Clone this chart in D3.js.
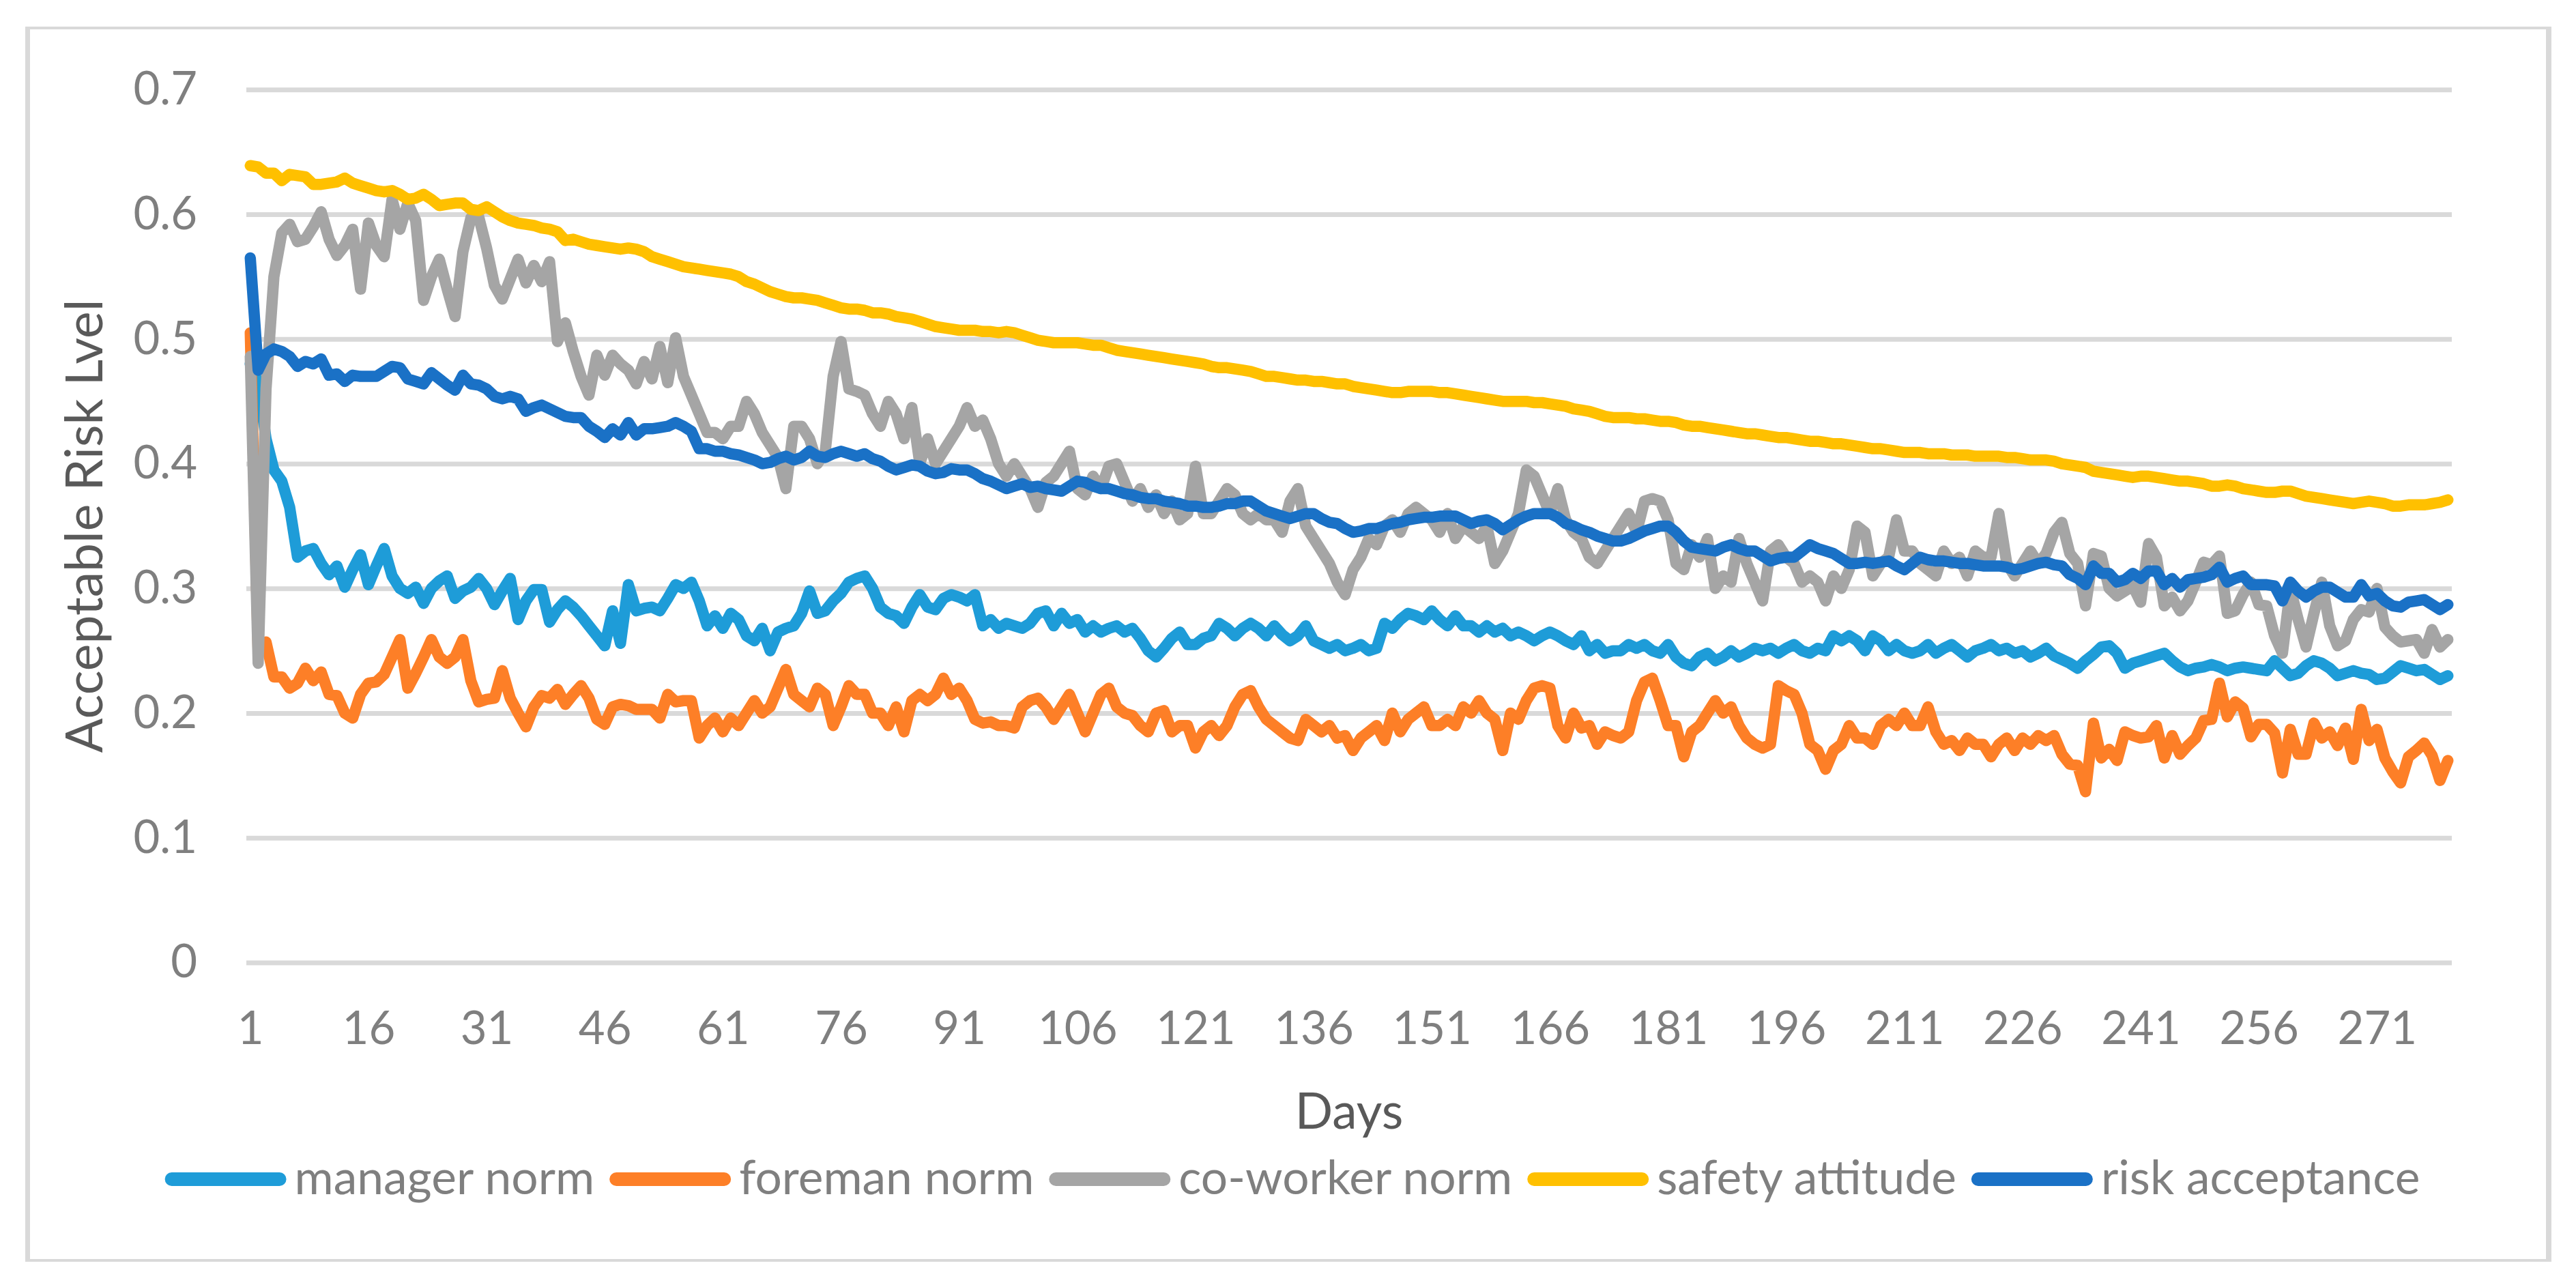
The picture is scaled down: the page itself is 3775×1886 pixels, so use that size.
<!DOCTYPE html>
<html><head><meta charset="utf-8">
<script src="https://cdn.jsdelivr.net/npm/d3@7"></script>
<style>html,body{margin:0;padding:0;background:#fff;} svg{display:block;}</style>
</head><body>
<svg id="chart" width="3775" height="1886"></svg>
<script>
// ---------- data ----------
const days = d3.range(1, 281);
const xTickDays = [1,16,31,46,61,76,91,106,121,136,151,166,181,196,211,226,241,256,271];
const yTicks = [0,0.1,0.2,0.3,0.4,0.5,0.6,0.7];
const seriesNames = ["manager norm","foreman norm","co-worker norm","safety attitude","risk acceptance"];
const seriesColors = ["#1E9CD8","#FD7F27","#A5A5A5","#FFC000","#1A71C6"];

const managerNorm = [
0.480,0.465,0.420,0.395,0.386,0.365,0.325,0.330,0.332,0.320,
0.311,0.318,0.301,0.315,0.327,0.303,0.318,0.332,0.310,0.300,
0.296,0.301,0.288,0.300,0.306,0.310,0.292,0.298,0.301,0.308,
0.300,0.287,0.298,0.308,0.275,0.290,0.299,0.299,0.273,0.283,
0.290,0.285,0.278,0.270,0.262,0.254,0.282,0.256,0.303,0.282,
0.284,0.285,0.282,0.292,0.303,0.300,0.305,0.290,0.270,0.278,
0.268,0.280,0.275,0.262,0.258,0.268,0.250,0.265,0.268,0.270,
0.280,0.298,0.280,0.282,0.290,0.296,0.305,0.308,0.310,0.300,
0.285,0.280,0.278,0.272,0.285,0.295,0.285,0.283,0.292,0.295,
0.293,0.290,0.295,0.270,0.275,0.268,0.272,0.270,0.268,0.272,
0.280,0.282,0.270,0.280,0.272,0.275,0.265,0.270,0.265,0.268,
0.270,0.265,0.268,0.260,0.250,0.245,0.252,0.260,0.265,0.255,
0.255,0.260,0.262,0.272,0.268,0.262,0.268,0.272,0.268,0.262,
0.270,0.263,0.258,0.262,0.270,0.258,0.255,0.252,0.255,0.250,
0.252,0.255,0.250,0.252,0.272,0.268,0.275,0.280,0.278,0.275,
0.282,0.275,0.270,0.278,0.270,0.270,0.265,0.270,0.265,0.268,
0.262,0.265,0.262,0.258,0.262,0.265,0.262,0.258,0.255,0.262,
0.250,0.255,0.248,0.250,0.250,0.255,0.252,0.255,0.250,0.248,
0.255,0.245,0.240,0.238,0.245,0.248,0.242,0.245,0.250,0.245,
0.248,0.252,0.250,0.252,0.248,0.252,0.255,0.250,0.248,0.252,
0.250,0.262,0.258,0.262,0.258,0.250,0.262,0.258,0.250,0.255,
0.250,0.248,0.250,0.255,0.248,0.252,0.255,0.250,0.245,0.250,
0.252,0.255,0.250,0.252,0.248,0.250,0.245,0.248,0.252,0.246,
0.243,0.240,0.236,0.242,0.247,0.253,0.254,0.248,0.236,0.240,
0.242,0.244,0.246,0.248,0.242,0.237,0.234,0.236,0.237,0.239,
0.237,0.234,0.236,0.237,0.236,0.235,0.234,0.242,0.236,0.230,
0.232,0.238,0.242,0.240,0.236,0.230,0.232,0.234,0.232,0.231,
0.227,0.228,0.233,0.238,0.236,0.234,0.235,0.231,0.227,0.230];

const foremanNorm = [
0.505,0.250,0.257,0.229,0.229,0.220,0.224,0.236,0.226,0.233,
0.215,0.214,0.200,0.196,0.215,0.224,0.225,0.231,0.245,0.259,
0.220,0.232,0.245,0.259,0.245,0.240,0.245,0.259,0.226,0.209,
0.211,0.212,0.234,0.212,0.200,0.189,0.205,0.214,0.212,0.219,
0.207,0.215,0.222,0.212,0.195,0.191,0.205,0.207,0.206,0.203,
0.203,0.203,0.196,0.215,0.209,0.210,0.210,0.180,0.190,0.196,
0.185,0.196,0.190,0.200,0.210,0.200,0.205,0.220,0.235,0.215,
0.210,0.205,0.220,0.215,0.190,0.205,0.222,0.215,0.215,0.200,
0.200,0.190,0.205,0.185,0.210,0.215,0.210,0.215,0.228,0.215,
0.220,0.210,0.195,0.192,0.193,0.190,0.190,0.188,0.205,0.210,
0.212,0.205,0.195,0.205,0.215,0.200,0.185,0.200,0.215,0.220,
0.205,0.200,0.198,0.190,0.185,0.200,0.202,0.185,0.190,0.190,
0.172,0.185,0.190,0.182,0.190,0.205,0.215,0.218,0.205,0.195,
0.190,0.185,0.180,0.178,0.195,0.190,0.185,0.190,0.180,0.182,
0.170,0.180,0.185,0.190,0.178,0.200,0.185,0.195,0.200,0.205,
0.190,0.190,0.195,0.190,0.205,0.200,0.210,0.200,0.195,0.170,
0.200,0.195,0.210,0.220,0.222,0.220,0.190,0.180,0.200,0.188,
0.190,0.175,0.185,0.182,0.180,0.185,0.210,0.225,0.228,0.210,
0.190,0.190,0.165,0.185,0.190,0.200,0.210,0.200,0.205,0.190,
0.180,0.175,0.172,0.175,0.222,0.218,0.215,0.200,0.175,0.170,
0.155,0.170,0.175,0.190,0.180,0.180,0.175,0.190,0.195,0.190,
0.200,0.190,0.190,0.205,0.185,0.175,0.178,0.170,0.180,0.175,
0.175,0.165,0.175,0.180,0.170,0.180,0.175,0.182,0.178,0.182,
0.167,0.159,0.158,0.137,0.192,0.164,0.171,0.162,0.185,0.182,
0.180,0.181,0.190,0.164,0.182,0.167,0.174,0.180,0.194,0.195,
0.224,0.197,0.209,0.204,0.181,0.191,0.191,0.184,0.152,0.187,
0.167,0.167,0.192,0.180,0.185,0.174,0.188,0.163,0.203,0.178,
0.187,0.164,0.153,0.144,0.165,0.170,0.176,0.166,0.146,0.162];

const coWorkerNorm = [
0.486,0.240,0.460,0.550,0.585,0.592,0.578,0.580,0.590,0.602,
0.580,0.567,0.575,0.588,0.540,0.593,0.575,0.566,0.612,0.588,
0.609,0.595,0.531,0.550,0.564,0.540,0.518,0.570,0.597,0.598,
0.573,0.543,0.532,0.548,0.564,0.545,0.559,0.546,0.562,0.498,
0.513,0.490,0.470,0.455,0.487,0.471,0.487,0.480,0.475,0.464,
0.482,0.468,0.494,0.465,0.501,0.470,0.455,0.440,0.425,0.425,
0.420,0.430,0.430,0.450,0.440,0.425,0.415,0.405,0.380,0.430,
0.430,0.420,0.400,0.410,0.470,0.498,0.460,0.458,0.455,0.440,
0.430,0.450,0.440,0.420,0.445,0.400,0.420,0.400,0.410,0.420,
0.430,0.445,0.430,0.435,0.420,0.400,0.390,0.400,0.390,0.380,
0.365,0.385,0.390,0.400,0.410,0.380,0.375,0.390,0.380,0.398,
0.400,0.385,0.370,0.380,0.365,0.375,0.360,0.370,0.355,0.360,
0.398,0.360,0.360,0.370,0.380,0.375,0.360,0.355,0.360,0.355,
0.355,0.345,0.370,0.380,0.350,0.340,0.330,0.320,0.305,0.295,
0.315,0.325,0.340,0.335,0.350,0.355,0.345,0.360,0.365,0.360,
0.355,0.345,0.360,0.340,0.350,0.345,0.340,0.350,0.320,0.330,
0.345,0.360,0.395,0.390,0.375,0.360,0.380,0.355,0.345,0.340,
0.325,0.320,0.330,0.340,0.350,0.360,0.345,0.370,0.372,0.370,
0.355,0.320,0.315,0.335,0.325,0.340,0.300,0.310,0.305,0.340,
0.320,0.305,0.290,0.330,0.335,0.325,0.320,0.305,0.310,0.305,
0.290,0.310,0.300,0.315,0.350,0.345,0.310,0.320,0.325,0.355,
0.330,0.330,0.320,0.315,0.310,0.330,0.320,0.325,0.310,0.330,
0.325,0.325,0.360,0.320,0.310,0.320,0.330,0.320,0.328,0.345,
0.353,0.328,0.320,0.286,0.328,0.326,0.300,0.294,0.298,0.302,
0.289,0.336,0.325,0.286,0.293,0.282,0.290,0.305,0.321,0.319,
0.326,0.280,0.282,0.295,0.305,0.287,0.286,0.262,0.248,0.300,
0.275,0.253,0.280,0.305,0.270,0.254,0.258,0.275,0.283,0.281,
0.300,0.269,0.262,0.257,0.258,0.259,0.248,0.267,0.253,0.259];

const safetyAttitude = [
0.639,0.638,0.633,0.633,0.627,0.632,0.631,0.630,0.624,0.624,
0.625,0.626,0.629,0.625,0.623,0.621,0.619,0.618,0.619,0.616,
0.612,0.613,0.616,0.612,0.607,0.608,0.609,0.609,0.604,0.603,
0.606,0.602,0.598,0.595,0.593,0.592,0.591,0.589,0.588,0.586,
0.579,0.580,0.578,0.576,0.575,0.574,0.573,0.572,0.573,0.572,
0.570,0.566,0.564,0.562,0.560,0.558,0.557,0.556,0.555,0.554,
0.553,0.552,0.550,0.546,0.544,0.541,0.538,0.536,0.534,0.533,
0.533,0.532,0.531,0.529,0.527,0.525,0.524,0.524,0.523,0.521,
0.521,0.520,0.518,0.517,0.516,0.514,0.512,0.510,0.509,0.508,
0.507,0.507,0.507,0.506,0.506,0.505,0.506,0.505,0.503,0.501,
0.499,0.498,0.497,0.497,0.497,0.497,0.496,0.495,0.495,0.493,
0.491,0.490,0.489,0.488,0.487,0.486,0.485,0.484,0.483,0.482,
0.481,0.480,0.478,0.477,0.477,0.476,0.475,0.474,0.472,0.470,
0.470,0.469,0.468,0.467,0.467,0.466,0.466,0.465,0.464,0.464,
0.462,0.461,0.460,0.459,0.458,0.457,0.457,0.458,0.458,0.458,
0.458,0.457,0.457,0.456,0.455,0.454,0.453,0.452,0.451,0.450,
0.450,0.450,0.450,0.449,0.449,0.448,0.447,0.446,0.444,0.443,
0.442,0.440,0.438,0.437,0.437,0.437,0.436,0.436,0.435,0.434,
0.434,0.433,0.431,0.430,0.430,0.429,0.428,0.427,0.426,0.425,
0.424,0.424,0.423,0.422,0.421,0.421,0.420,0.419,0.418,0.418,
0.417,0.416,0.416,0.415,0.414,0.413,0.412,0.412,0.411,0.410,
0.409,0.409,0.409,0.408,0.408,0.408,0.407,0.407,0.407,0.406,
0.406,0.406,0.406,0.405,0.405,0.404,0.403,0.403,0.403,0.402,
0.400,0.399,0.398,0.397,0.394,0.393,0.392,0.391,0.390,0.389,
0.390,0.390,0.389,0.388,0.387,0.386,0.386,0.385,0.384,0.382,
0.382,0.383,0.382,0.380,0.379,0.378,0.377,0.377,0.378,0.378,
0.376,0.374,0.373,0.372,0.371,0.370,0.369,0.368,0.369,0.370,
0.369,0.368,0.366,0.366,0.367,0.367,0.367,0.368,0.369,0.371];

const riskAcceptance = [
0.565,0.475,0.488,0.492,0.490,0.486,0.478,0.482,0.480,0.484,
0.471,0.472,0.466,0.471,0.470,0.470,0.470,0.474,0.478,0.477,
0.468,0.466,0.464,0.473,0.468,0.463,0.459,0.471,0.464,0.463,
0.460,0.454,0.452,0.454,0.452,0.442,0.445,0.447,0.444,0.441,
0.438,0.437,0.437,0.430,0.426,0.421,0.428,0.423,0.433,0.423,
0.428,0.428,0.429,0.430,0.433,0.430,0.426,0.412,0.412,0.410,
0.410,0.408,0.407,0.405,0.403,0.400,0.401,0.404,0.406,0.403,
0.405,0.410,0.406,0.405,0.408,0.410,0.408,0.406,0.408,0.404,
0.402,0.398,0.395,0.397,0.399,0.398,0.394,0.392,0.393,0.396,
0.395,0.395,0.392,0.388,0.386,0.383,0.380,0.382,0.384,0.381,
0.382,0.380,0.379,0.378,0.382,0.386,0.385,0.382,0.380,0.380,
0.378,0.376,0.375,0.373,0.372,0.372,0.370,0.369,0.368,0.366,
0.366,0.365,0.365,0.366,0.368,0.368,0.370,0.370,0.366,0.362,
0.360,0.358,0.356,0.358,0.360,0.360,0.356,0.353,0.352,0.348,
0.345,0.346,0.348,0.348,0.350,0.352,0.353,0.355,0.356,0.357,
0.357,0.358,0.358,0.358,0.355,0.352,0.354,0.355,0.352,0.347,
0.351,0.355,0.358,0.360,0.360,0.360,0.357,0.352,0.350,0.347,
0.345,0.342,0.340,0.338,0.338,0.340,0.343,0.346,0.348,0.350,
0.350,0.345,0.338,0.333,0.332,0.331,0.330,0.333,0.335,0.332,
0.330,0.330,0.326,0.322,0.324,0.325,0.325,0.330,0.335,0.332,
0.330,0.328,0.324,0.320,0.320,0.321,0.320,0.321,0.322,0.318,
0.315,0.320,0.325,0.323,0.322,0.322,0.321,0.320,0.320,0.319,
0.318,0.318,0.318,0.317,0.315,0.316,0.318,0.320,0.321,0.319,
0.318,0.311,0.308,0.303,0.318,0.312,0.312,0.305,0.307,0.312,
0.308,0.314,0.314,0.303,0.308,0.301,0.307,0.308,0.309,0.311,
0.317,0.305,0.308,0.310,0.303,0.303,0.303,0.302,0.290,0.305,
0.298,0.293,0.298,0.301,0.301,0.297,0.293,0.293,0.303,0.294,
0.296,0.290,0.286,0.285,0.289,0.290,0.291,0.287,0.283,0.287];

const seriesValues = [managerNorm, foremanNorm, coWorkerNorm, safetyAttitude, riskAcceptance];

// ---------- layout ----------
const W = 3775, H = 1886;
const plot = {left: 361, right: 3593, top: 131.3, bottom: 1410.5};
const FONT = "Lato, 'Open Sans', 'DejaVu Sans', sans-serif";
const svg = d3.select("#chart");
svg.append("rect").attr("x",0).attr("y",0).attr("width",W).attr("height",H).attr("fill","#ffffff");

// chart frame
const frameCol = "#D9D9D9";
svg.append("rect").attr("x",37).attr("y",39).attr("width",3702).attr("height",4).attr("fill",frameCol);
svg.append("rect").attr("x",37).attr("y",1845).attr("width",3702).attr("height",4).attr("fill",frameCol);
svg.append("rect").attr("x",37).attr("y",39).attr("width",7).attr("height",1810).attr("fill",frameCol);
svg.append("rect").attr("x",3731).attr("y",39).attr("width",8).attr("height",1810).attr("fill",frameCol);

const x = d3.scaleLinear().domain([0.5, days.length + 0.5]).range([plot.left, plot.right]);
const y = d3.scaleLinear().domain([0, 0.7]).range([plot.bottom, plot.top]);

// gridlines
const grid = svg.append("g").attr("transform", `translate(${plot.left},0)`)
  .call(d3.axisLeft(y).tickValues(yTicks).tickSize(-(plot.right - plot.left)).tickFormat(""));
grid.select(".domain").remove();
grid.selectAll(".tick line").attr("stroke", frameCol).attr("stroke-width", 7);

// y axis labels
const yAxis = svg.append("g").attr("transform", `translate(${plot.left},0)`)
  .call(d3.axisLeft(y).tickValues(yTicks).tickSize(0).tickPadding(72)
    .tickFormat(d => d === 0 ? "0" : d3.format(".1f")(d)));
yAxis.select(".domain").remove();
yAxis.selectAll("text").attr("font-family", FONT).attr("font-size", 67).attr("fill", "#7F7F7F");

// x axis labels
const xAxis = svg.append("g").attr("transform", `translate(0,${plot.bottom})`)
  .call(d3.axisBottom(x).tickValues(xTickDays).tickSize(0).tickPadding(72).tickFormat(d3.format("d")));
xAxis.select(".domain").remove();
xAxis.selectAll("text").attr("font-family", FONT).attr("font-size", 67).attr("fill", "#7F7F7F");

// series
const line = d3.line().x((d, i) => x(days[i])).y(d => y(d));
seriesValues.forEach((vals, k) => {
  svg.append("path").datum(vals)
    .attr("d", line)
    .attr("fill", "none")
    .attr("stroke", seriesColors[k])
    .attr("stroke-width", 16.5)
    .attr("stroke-linejoin", "round")
    .attr("stroke-linecap", "round");
});

// axis titles
svg.append("text").attr("x", (plot.left + plot.right) / 2).attr("y", 1654)
  .attr("text-anchor", "middle").attr("font-family", FONT).attr("font-size", 73)
  .attr("fill", "#595959").text("Days");
svg.append("text").attr("transform", `translate(150,${(plot.top + plot.bottom) / 2}) rotate(-90)`)
  .attr("text-anchor", "middle").attr("font-family", FONT).attr("font-size", 75)
  .attr("fill", "#595959").text("Acceptable Risk Lvel");

// legend
const legendG = svg.append("g");
const lineLen = 178, lineW = 20, gapLT = 12, gapTL = 22, legY = 1728, legBase = 1750;
let cx = 0;
seriesNames.forEach((name, k) => {
  const g = legendG.append("g");
  g.append("line").attr("x1", cx + lineW / 2).attr("x2", cx + lineLen - lineW / 2)
    .attr("y1", legY).attr("y2", legY).attr("stroke", seriesColors[k])
    .attr("stroke-width", lineW).attr("stroke-linecap", "round");
  const t = g.append("text").attr("x", cx + lineLen + gapLT).attr("y", legBase)
    .attr("font-family", FONT).attr("font-size", 69.5).attr("fill", "#7F7F7F").text(name);
  const tw = t.node().getComputedTextLength();
  cx += lineLen + gapLT + tw + gapTL;
});
const totalW = cx - gapTL;
legendG.attr("transform", `translate(${1894 - totalW / 2},0)`);
</script>
</body></html>
